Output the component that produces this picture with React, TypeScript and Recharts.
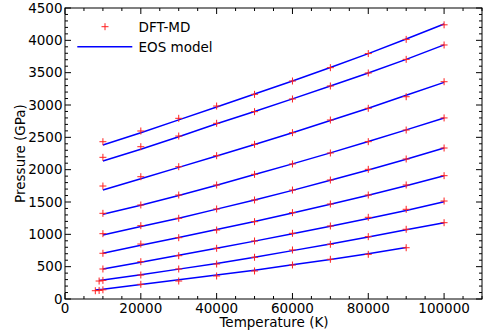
import React from 'react';
import { ComposedChart, Line, Scatter, XAxis, YAxis } from 'recharts';

// ---------- data ----------
const temps = [10000, 20000, 30000, 40000, 50000, 60000, 70000, 80000, 90000, 100000];
const tempsH = [9000, 10000, 20000, 30000, 40000, 50000, 60000, 70000, 80000, 90000, 100000];
const tempsI = [8000, 9000, 10000, 20000, 30000, 40000, 50000, 60000, 70000, 80000, 90000];
const tempsIModel = [8000, 10000, 20000, 30000, 40000, 50000, 60000, 70000, 80000, 90000];

// DFT-MD points (GPa)
const dftA = [2432, 2598, 2794, 2984, 3165, 3371, 3577, 3795, 4015, 4240];
const dftB = [2191, 2355, 2520, 2717, 2897, 3093, 3294, 3495, 3706, 3928];
const dftC = [1747, 1891, 2046, 2216, 2392, 2572, 2768, 2949, 3128, 3360];
const dftD = [1325, 1454, 1608, 1763, 1928, 2088, 2258, 2433, 2613, 2800];
const dftE = [1010, 1134, 1248, 1392, 1531, 1685, 1840, 2005, 2165, 2335];
const dftF = [707, 850, 948, 1067, 1196, 1335, 1469, 1608, 1763, 1907];
const dftG = [464, 577, 670, 784, 897, 1016, 1129, 1263, 1387, 1515];
const dftH = [278, 288, 371, 464, 541, 645, 758, 846, 964, 1078, 1180];
const dftI = [128, 132, 142, 227, 278, 356, 433, 526, 614, 691, 793];

// EOS model curves (GPa)
const eosA = [2381, 2570, 2770, 2970, 3170, 3370, 3580, 3795, 4020, 4252];
const eosB = [2134, 2315, 2510, 2710, 2900, 3095, 3295, 3495, 3705, 3930];
const eosC = [1685, 1860, 2035, 2210, 2390, 2570, 2760, 2950, 3150, 3350];
const eosD = [1310, 1450, 1600, 1760, 1925, 2090, 2260, 2435, 2615, 2800];
const eosE = [990, 1120, 1250, 1390, 1530, 1680, 1835, 1995, 2160, 2335];
const eosF = [707, 830, 950, 1075, 1200, 1330, 1465, 1605, 1750, 1905];
const eosG = [464, 570, 675, 785, 895, 1010, 1125, 1245, 1370, 1505];
const eosH = [285, 292, 375, 462, 550, 645, 748, 850, 960, 1070, 1180];
const eosI = [140, 150, 225, 298, 370, 445, 528, 612, 698, 795];

// ticks
const xMajorTicks = [0, 20000, 40000, 60000, 80000, 100000];
const yMajorTicks = [0, 500, 1000, 1500, 2000, 2500, 3000, 3500, 4000, 4500];
const xAllTicks: number[] = [];
for (let v = 0; v <= 110000; v += 5000) xAllTicks.push(v);
const yAllTicks: number[] = [];
for (let v = 0; v <= 4500; v += 100) yAllTicks.push(v);

// ---------- build ----------
const zip = (ts: number[], ps: number[]) => ts.map((t, i) => ({ t, p: ps[i] }));
const dftSets = [
  zip(temps, dftA), zip(temps, dftB), zip(temps, dftC), zip(temps, dftD),
  zip(temps, dftE), zip(temps, dftF), zip(temps, dftG), zip(tempsH, dftH), zip(tempsI, dftI),
];
const dftAll = dftSets.flat();
const eosSets = [
  zip(temps, eosA), zip(temps, eosB), zip(temps, eosC), zip(temps, eosD),
  zip(temps, eosE), zip(temps, eosF), zip(temps, eosG), zip(tempsH, eosH), zip(tempsIModel, eosI),
];

// ---------- layout ----------
const W = 498, H = 332;
const PL = 65, PT = 8, PR = 482, PB = 299;
const FONT = 'DejaVu Sans';
const FS = 13.5;
const RED = '#ff2020';
const BLUE = '#0000ff';

const XTick = (props: any) => {
  const { x, payload } = props;
  const v = payload.value as number;
  const major = xMajorTicks.includes(v);
  const len = major ? 6 : 3;
  return (
    <g>
      <line x1={x} x2={x} y1={PB} y2={PB - len} stroke="#000" strokeWidth={1} />
      <line x1={x} x2={x} y1={PT} y2={PT + len} stroke="#000" strokeWidth={1} />
      {major && (
        <text x={x} y={PB + 13.5} textAnchor="middle" fontFamily={FONT} fontSize={FS} fill="#000">
          {v}
        </text>
      )}
    </g>
  );
};

const YTick = (props: any) => {
  const { y, payload } = props;
  const v = payload.value as number;
  const major = yMajorTicks.includes(v);
  const len = major ? 6 : 3;
  return (
    <g>
      <line x1={PL} x2={PL + len} y1={y} y2={y} stroke="#000" strokeWidth={1} />
      <line x1={PR} x2={PR - len} y1={y} y2={y} stroke="#000" strokeWidth={1} />
      {major && (
        <text x={PL - 2.5} y={y} dy="0.35em" textAnchor="end" fontFamily={FONT} fontSize={FS} fill="#000">
          {v}
        </text>
      )}
    </g>
  );
};

const Plus = (props: any) => {
  const { cx, cy } = props;
  if (cx == null || cy == null) return <g />;
  const s = 3.5;
  return (
    <g>
      <line x1={cx - s} x2={cx + s} y1={cy} y2={cy} stroke={RED} strokeWidth={1} />
      <line x1={cx} x2={cx} y1={cy - s} y2={cy + s} stroke={RED} strokeWidth={1} />
    </g>
  );
};

export default function App() {
  return (
    <div style={{ position: 'absolute', left: 0, top: 0, width: W, height: H, background: '#fff' }}>
      <ComposedChart
        width={W}
        height={H}
        margin={{ top: PT, right: W - PR, bottom: 0, left: 0 }}
      >
        <XAxis
          type="number"
          dataKey="t"
          domain={[0, 110000]}
          allowDataOverflow
          ticks={xAllTicks}
          interval={0}
          tick={<XTick />}
          tickLine={false}
          axisLine={false}
          tickSize={0}
          tickMargin={0}
          height={H - PB}
        />
        <YAxis
          type="number"
          dataKey="p"
          domain={[0, 4500]}
          allowDataOverflow
          ticks={yAllTicks}
          interval={0}
          tick={<YTick />}
          tickLine={false}
          axisLine={false}
          tickSize={0}
          tickMargin={0}
          width={PL}
        />
        <Scatter data={dftAll} dataKey="p" shape={<Plus />} isAnimationActive={false} />
        {eosSets.map((d, i) => (
          <Line
            key={i}
            data={d}
            dataKey="p"
            type="linear"
            stroke={BLUE}
            strokeWidth={1.5}
            dot={false}
            activeDot={false}
            isAnimationActive={false}
          />
        ))}
      </ComposedChart>
      <svg
        width={W}
        height={H}
        style={{ position: 'absolute', left: 0, top: 0, pointerEvents: 'none' }}
      >
        <rect x={PL} y={PT} width={PR - PL} height={PB - PT} fill="none" stroke="#000" strokeWidth={1} />
        {/* legend */}
        <line x1={101.5} x2={108.5} y1={26.7} y2={26.7} stroke={RED} strokeWidth={1} />
        <line x1={105} x2={105} y1={23.2} y2={30.2} stroke={RED} strokeWidth={1} />
        <text x={138.5} y={31.7} fontFamily={FONT} fontSize={FS} fill="#000">DFT-MD</text>
        <line x1={77.3} x2={132.3} y1={46.7} y2={46.7} stroke={BLUE} strokeWidth={1.5} />
        <text x={138.5} y={51.6} fontFamily={FONT} fontSize={FS} fill="#000">EOS model</text>
        {/* axis labels */}
        <text x={274} y={327} textAnchor="middle" fontFamily={FONT} fontSize={FS} fill="#000">
          Temperature (K)
        </text>
        <text
          x={0}
          y={0}
          transform={`translate(25, ${(PT + PB) / 2}) rotate(-90)`}
          textAnchor="middle"
          fontFamily={FONT}
          fontSize={FS}
          fill="#000"
        >
          Pressure (GPa)
        </text>
      </svg>
    </div>
  );
}
